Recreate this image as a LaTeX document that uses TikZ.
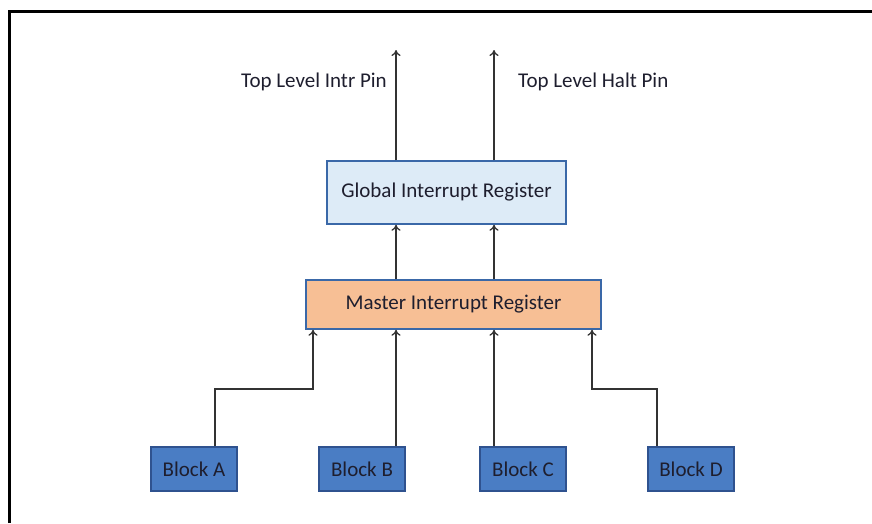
\documentclass[tikz,border=0pt]{standalone}
\usepackage{fontspec}
\setmainfont{Carlito}
\usetikzlibrary{arrows.meta}
\definecolor{globfill}{HTML}{DDEBF7}
\definecolor{mastfill}{HTML}{F7BF95}
\definecolor{boxline}{HTML}{3A68A8}
\definecolor{blkfill}{HTML}{4A7DC4}
\definecolor{blkline}{HTML}{2F528F}
\definecolor{txt}{HTML}{1E1E2E}
\definecolor{wire}{HTML}{333333}
\tikzset{
  regbox/.style={draw=boxline, line width=1.5pt, minimum height=#1, inner sep=0pt, text=txt, font=\fontsize{21}{24}\selectfont},
  blockbox/.style={draw=blkline, line width=1.2pt, fill=blkfill, minimum width=86pt, minimum height=44pt, inner sep=0pt, text=txt, font=\fontsize{21}{24}\selectfont},
  wirearrow/.style={draw=wire, line width=1.3pt, -{To[length=6pt,width=9pt]}},
  pinlabel/.style={text=txt, font=\fontsize{21}{24}\selectfont, inner sep=0pt}
}
\begin{document}
\begin{tikzpicture}[x=1pt,y=-1pt]
\useasboundingbox (0,0) rectangle (872,523);
% frame
\draw[line width=3pt] (9.5,523) -- (9.5,11.5) -- (872,11.5);
% registers
\node[regbox=63pt, fill=globfill, minimum width=239pt] (glob) at (446.5,192.5) {Global Interrupt Register};
\node[regbox=49pt, fill=mastfill, minimum width=295pt] (mast) at (453.5,304.5) {Master Interrupt Register};
% blocks
\node[blockbox] (ba) at (194,469) {Block A};
\node[blockbox] (bb) at (362,469) {Block B};
\node[blockbox] (bc) at (523,469) {Block C};
\node[blockbox] (bd) at (691,469) {Block D};
% pins
\coordinate (pin1) at (396,50);
\coordinate (pin2) at (494,50);
\node[pinlabel, anchor=east] (lab1) at (387,82) {Top Level Intr Pin};
\node[pinlabel, anchor=west] (lab2) at (518,82) {Top Level Halt Pin};
% connectors
\draw[wirearrow] (glob.north -| pin1) -- (pin1);
\draw[wirearrow] (glob.north -| pin2) -- (pin2);
\draw[wirearrow] (mast.north -| pin1) -- (glob.south -| pin1);
\draw[wirearrow] (mast.north -| pin2) -- (glob.south -| pin2);
\coordinate (ja) at (313,389);
\coordinate (jd) at (592,389);
\draw[wirearrow] (ba.north -| 215,0) |- (ja) -- (mast.south -| ja);
\draw[wirearrow] (bb.north -| pin1) -- (mast.south -| pin1);
\draw[wirearrow] (bc.north -| pin2) -- (mast.south -| pin2);
\draw[wirearrow] (bd.north -| 657,0) |- (jd) -- (mast.south -| jd);
\end{tikzpicture}
\end{document}
